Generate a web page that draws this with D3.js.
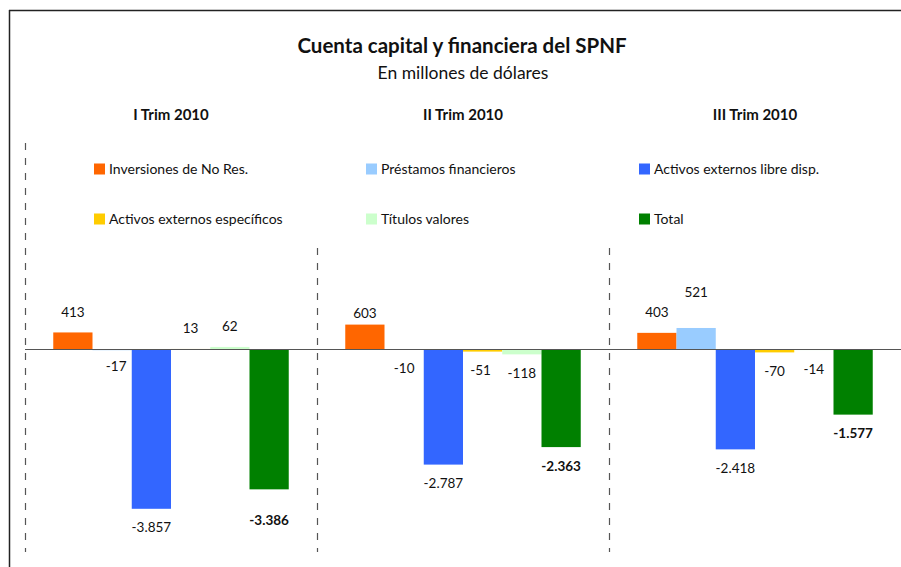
<!DOCTYPE html>
<meta charset="utf-8">
<html>
<head>
<title>Cuenta capital y financiera del SPNF</title>
<style>
    body { margin: 0; background: #fff; }
    text { font-family: Lato, "Open Sans", sans-serif; fill: #111; }
    .title { font-size: 20.5px; font-weight: bold; }
    .subtitle { font-size: 17.5px; }
    .ptitle { font-size: 15px; font-weight: bold; }
    .legend text { font-size: 14px; }
    .val { font-size: 13.5px; }
    .val.bold { font-weight: bold; }
</style>
<script src="https://cdn.jsdelivr.net/npm/d3@7"></script>
</head>
<body>
<script>

    // data (millones de dólares)
    var periods = ["I Trim 2010", "II Trim 2010", "III Trim 2010"];
    var seriesNames = ["Inversiones de No Res.", "Préstamos financieros", "Activos externos libre disp.",
                       "Activos externos específicos", "Títulos valores", "Total"];
    var inversiones = [413, 603, 403];
    var prestamos   = [-17, -10, 521];
    var activosLib  = [-3857, -2787, -2418];
    var activosEsp  = [13, -51, -70];
    var titulos     = [62, -118, -14];
    var total       = [-3386, -2363, -1577];

    var colors = ["#FF6600", "#99CCFF", "#3366FF", "#FFCC00", "#CCFFCC", "#008000"];

    // labels that were moved by hand in the original ("serie-periodo" -> offset from bar end)
    var labelOff = {"0-1": -11, "1-2": -35, "5-0": 31, "1-0": 16};
    var labelDx  = {"1-0": 4, "3-1": -2};

    var width = 901, height = 567;
    var allSeries = [inversiones, prestamos, activosLib, activosEsp, titulos, total];

    var svg = d3.select("body").append("svg")
        .attr("width", width)
        .attr("height", height);

    var x0 = d3.scaleBand().domain(periods).range([25, 901]);
    var x1 = d3.scaleBand().domain(d3.range(seriesNames.length))
        .range([0, x0.bandwidth()]).paddingInner(0).paddingOuter(0.72);
    var y = d3.scaleLinear().domain([-5000, 5000]).range([556, 143]);

    var fmt = d3.formatLocale({decimal: ",", thousands: ".", grouping: [3], currency: ["", ""], minus: "-"}).format(",d");

    // frame
    svg.append("line").attr("x1", 9).attr("x2", width).attr("y1", 10.5).attr("y2", 10.5)
        .attr("stroke", "#222").attr("stroke-width", 1.5);
    svg.append("line").attr("x1", 9.5).attr("x2", 9.5).attr("y1", 10).attr("y2", height)
        .attr("stroke", "#222").attr("stroke-width", 1.5);

    // titles
    svg.append("text").attr("class", "title").attr("x", 462).attr("y", 53)
        .attr("text-anchor", "middle").text("Cuenta capital y financiera del SPNF");
    svg.append("text").attr("class", "subtitle").attr("x", 463).attr("y", 79)
        .attr("text-anchor", "middle").text("En millones de dólares");

    svg.selectAll("text.ptitle").data(periods).enter().append("text")
        .attr("class", "ptitle")
        .attr("x", d => x0(d) + x0.bandwidth() / 2)
        .attr("y", 120)
        .attr("text-anchor", "middle")
        .text(d => d);

    // dashed separators
    var seps = periods.map(p => x0(p));
    svg.selectAll("line.sep").data(seps).enter().append("line")
        .attr("class", "sep")
        .attr("x1", d => Math.round(d) + 0.5).attr("x2", d => Math.round(d) + 0.5)
        .attr("y1", 143).attr("y2", 552)
        .attr("stroke", "#555").attr("stroke-width", 1.2)
        .attr("stroke-dasharray", "7,8");

    // legend (white box covers the inner separators)
    var leg = svg.append("g").attr("class", "legend");
    leg.append("rect").attr("x", 45).attr("y", 141).attr("width", 856).attr("height", 100).attr("fill", "#fff");
    var legCols = [94, 366, 639], legRows = [169, 219];
    var legItems = leg.selectAll("g.item").data(seriesNames).enter().append("g")
        .attr("class", "item")
        .attr("transform", (d, i) => "translate(" + legCols[i % 3] + "," + legRows[Math.floor(i / 3)] + ")");
    legItems.append("rect").attr("x", 0).attr("y", -5.5).attr("width", 11).attr("height", 11)
        .attr("fill", (d, i) => colors[i]);
    legItems.append("text").attr("x", 15).attr("y", 5).text(d => d);

    // bars
    var groups = svg.selectAll("g.period").data(periods).enter().append("g")
        .attr("class", "period")
        .attr("transform", d => "translate(" + x0(d) + ",0)");

    groups.selectAll("rect.bar")
        .data((p, pi) => allSeries.map((s, si) => ({si: si, pi: pi, v: s[pi]})))
        .enter().append("rect")
        .attr("class", "bar")
        .attr("x", d => x1(d.si))
        .attr("width", x1.bandwidth())
        .attr("y", d => y(Math.max(0, d.v)))
        .attr("height", d => Math.abs(y(d.v) - y(0)))
        .attr("fill", d => colors[d.si]);

    // zero line
    svg.append("line").attr("x1", 25).attr("x2", width).attr("y1", y(0)).attr("y2", y(0))
        .attr("stroke", "#555").attr("stroke-width", 1.2);

    // value labels
    groups.selectAll("text.val")
        .data((p, pi) => allSeries.map((s, si) => ({si: si, pi: pi, v: s[pi]})))
        .enter().append("text")
        .attr("class", d => d.si === 5 ? "val bold" : "val")
        .attr("text-anchor", "middle")
        .attr("x", d => x1(d.si) + x1.bandwidth() / 2 + (labelDx[d.si + "-" + d.pi] || 0))
        .attr("y", d => {
            var k = d.si + "-" + d.pi;
            var off = k in labelOff ? labelOff[k] : (d.v >= 0 ? -20 : 19);
            return y(d.v) + off + 4.5;
        })
        .text(d => fmt(d.v));

</script>
</body>
</html>
